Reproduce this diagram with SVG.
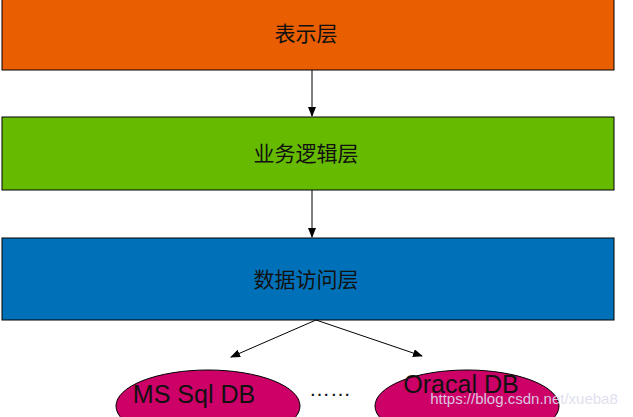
<svg xmlns="http://www.w3.org/2000/svg" width="633" height="417" viewBox="0 0 633 417">
<defs><marker id="a" markerWidth="10" markerHeight="8" refX="9" refY="4" orient="auto" markerUnits="userSpaceOnUse"><path d="M0,0 L10,4 L0,8 z" fill="#000"/></marker></defs>
<style>.l{stroke:#000;stroke-width:1}.t{font-family:"Liberation Sans","Noto Sans CJK SC",sans-serif;font-size:21px;text-anchor:middle;fill:#111}.c{stroke:#000;stroke-width:1;fill:none;marker-end:url(#a)}</style>
<rect width="633" height="417" fill="#fff"/>
<g id="n1"><rect x="2" y="-1" width="612" height="71" fill="#e85e00" class="l"/><text x="306" y="41" class="t">表示层</text></g>
<g id="n2"><rect x="2" y="117" width="612" height="73" fill="#66bb00" class="l"/><text x="306" y="161" class="t">业务逻辑层</text></g>
<g id="n3"><rect x="2" y="238" width="612" height="82" fill="#0071b8" class="l"/><text x="306" y="287" class="t">数据访问层</text></g>
<g id="n4"><ellipse cx="208" cy="406" rx="92" ry="36" fill="#cc0066" class="l"/><text x="194" y="403" class="t" style="font-size:25px">MS Sql DB</text></g>
<g id="n5"><ellipse cx="467" cy="406" rx="92" ry="36" fill="#cc0066" class="l"/><text x="461" y="393" class="t" style="font-size:25px">Oracal DB</text></g>
<text x="330" y="396" class="t">……</text>
<g id="connectors">
<path d="M312,70 V116" class="c"/>
<path d="M312,190 V237" class="c"/>
<path d="M316,320 L231,357" class="c"/>
<path d="M316,320 L422,356" class="c"/>
</g>
<text x="524" y="404" font-family="Liberation Sans,sans-serif" font-size="15" fill="#dde" text-anchor="middle" opacity="0.9">https://blog.csdn.net/xueba8</text>
</svg>
